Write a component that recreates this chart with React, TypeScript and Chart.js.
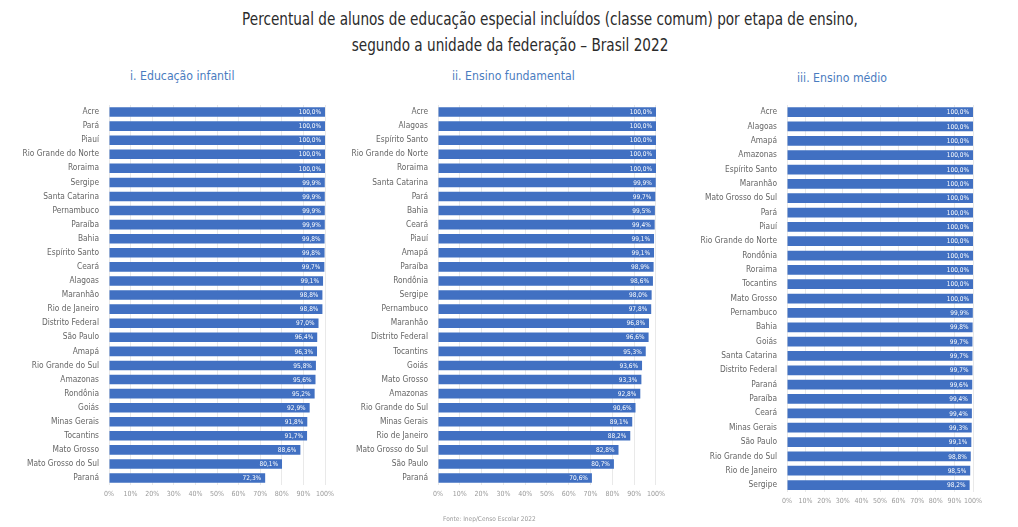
import React, { useEffect, useRef } from "react";
import { Chart, registerables } from "chart.js";

Chart.register(...registerables);

const FONT = "'Liberation Sans Narrow', 'DejaVu Sans Condensed', 'Roboto', sans-serif";

const infantilStates = ["Acre", "Pará", "Piauí", "Rio Grande do Norte", "Roraima", "Sergipe", "Santa Catarina", "Pernambuco", "Paraíba", "Bahia", "Espírito Santo", "Ceará", "Alagoas", "Maranhão", "Rio de Janeiro", "Distrito Federal", "São Paulo", "Amapá", "Rio Grande do Sul", "Amazonas", "Rondônia", "Goiás", "Minas Gerais", "Tocantins", "Mato Grosso", "Mato Grosso do Sul", "Paraná"];
const infantilValues = [100.0, 100.0, 100.0, 100.0, 100.0, 99.9, 99.9, 99.9, 99.9, 99.8, 99.8, 99.7, 99.1, 98.8, 98.8, 97.0, 96.4, 96.3, 95.8, 95.6, 95.2, 92.9, 91.8, 91.7, 88.6, 80.1, 72.3];

const fundamentalStates = ["Acre", "Alagoas", "Espírito Santo", "Rio Grande do Norte", "Roraima", "Santa Catarina", "Pará", "Bahia", "Ceará", "Piauí", "Amapá", "Paraíba", "Rondônia", "Sergipe", "Pernambuco", "Maranhão", "Distrito Federal", "Tocantins", "Goiás", "Mato Grosso", "Amazonas", "Rio Grande do Sul", "Minas Gerais", "Rio de Janeiro", "Mato Grosso do Sul", "São Paulo", "Paraná"];
const fundamentalValues = [100.0, 100.0, 100.0, 100.0, 100.0, 99.9, 99.7, 99.5, 99.4, 99.1, 99.1, 98.9, 98.6, 98.0, 97.8, 96.8, 96.6, 95.3, 93.6, 93.3, 92.8, 90.6, 89.1, 88.2, 82.8, 80.7, 70.6];

const medioStates = ["Acre", "Alagoas", "Amapá", "Amazonas", "Espírito Santo", "Maranhão", "Mato Grosso do Sul", "Pará", "Piauí", "Rio Grande do Norte", "Rondônia", "Roraima", "Tocantins", "Mato Grosso", "Pernambuco", "Bahia", "Goiás", "Santa Catarina", "Distrito Federal", "Paraná", "Paraíba", "Ceará", "Minas Gerais", "São Paulo", "Rio Grande do Sul", "Rio de Janeiro", "Sergipe"];
const medioValues = [100.0, 100.0, 100.0, 100.0, 100.0, 100.0, 100.0, 100.0, 100.0, 100.0, 100.0, 100.0, 100.0, 100.0, 99.9, 99.8, 99.7, 99.7, 99.7, 99.6, 99.4, 99.4, 99.3, 99.1, 98.8, 98.5, 98.2];

const xTicks = [0, 10, 20, 30, 40, 50, 60, 70, 80, 90, 100];

const fmt = (v: number) => v.toFixed(1).replace(".", ",") + "%";

const valueLabels = {
  id: "valueLabels",
  afterDatasetsDraw(chart: any) {
    const ctx = chart.ctx;
    const meta = chart.getDatasetMeta(0);
    const data = chart.data.datasets[0].data as number[];
    ctx.save();
    ctx.fillStyle = "#ffffff";
    ctx.font = `6.5px ${FONT}`;
    ctx.textAlign = "right";
    ctx.textBaseline = "middle";
    meta.data.forEach((bar: any, i: number) => {
      ctx.fillText(fmt(data[i]), bar.x - 4, bar.y + 0.5);
    });
    ctx.restore();
  },
};

type PanelProps = {
  labels: string[];
  values: number[];
  left: number;
  top: number;
  width: number;
  height: number;
  yWidth: number;
  pad: { top: number; bottom: number; right: number };
};

function Panel({ labels, values, left, top, width, height, yWidth, pad }: PanelProps) {
  const ref = useRef<HTMLCanvasElement | null>(null);
  useEffect(() => {
    if (!ref.current) return;
    const chart = new Chart(ref.current, {
      type: "bar",
      data: {
        labels,
        datasets: [
          {
            data: values,
            backgroundColor: "#4170c2",
            categoryPercentage: 1,
            barPercentage: 0.68,
          },
        ],
      },
      options: {
        indexAxis: "y",
        animation: false,
        responsive: false,
        maintainAspectRatio: false,
        layout: { padding: { left: 0, top: pad.top, bottom: pad.bottom, right: pad.right } },
        plugins: { legend: { display: false }, tooltip: { enabled: false } },
        scales: {
          x: {
            min: 0,
            max: 100,
            afterBuildTicks: (s: any) => {
              s.ticks = xTicks.map((v) => ({ value: v }));
            },
            afterFit: (s: any) => {
              s.height = 16;
            },
            grid: { color: "#e9e9e9", drawTicks: false },
            border: { display: false },
            ticks: {
              padding: 5,
              color: "#9a9a9a",
              font: { family: FONT, size: 7 },
              callback: (v: any) => v + "%",
              maxRotation: 0,
              autoSkip: false,
            },
          },
          y: {
            afterFit: (s: any) => {
              s.width = yWidth;
            },
            grid: { display: false, drawTicks: false },
            border: { display: false },
            ticks: {
              padding: 10,
              color: "#666666",
              font: { family: FONT, size: 8.3 },
              autoSkip: false,
            },
          },
        },
      },
      plugins: [valueLabels],
    });
    return () => chart.destroy();
  }, []);
  return (
    <canvas
      ref={ref}
      width={width}
      height={height}
      style={{ position: "absolute", left, top, width, height }}
    />
  );
}

const subStyle: React.CSSProperties = {
  position: "absolute",
  fontFamily: FONT,
  fontSize: 12.2,
  color: "#4a7cc0",
  whiteSpace: "nowrap",
};

const titleLine: React.CSSProperties = {
  position: "absolute",
  width: 800,
  textAlign: "center",
  fontFamily: FONT,
  fontSize: 17,
  lineHeight: "22px",
  color: "#2b2b2b",
  whiteSpace: "nowrap",
  transform: "scaleX(0.89)",
  transformOrigin: "center",
};

export default function App() {
  return (
    <div
      style={{
        position: "fixed",
        left: 0,
        top: 0,
        width: 1018,
        height: 527,
        background: "#ffffff",
        overflow: "hidden",
      }}
    >
      <div style={{ ...titleLine, left: 150, top: 8 }}>
        Percentual de alunos de educação especial incluídos (classe comum) por etapa de ensino,
      </div>
      <div style={{ ...titleLine, left: 110, top: 34 }}>
        segundo a unidade da federação – Brasil 2022
      </div>
      <div style={{ ...subStyle, left: 130, top: 69 }}>i. Educação infantil</div>
      <div style={{ ...subStyle, left: 452, top: 69 }}>ii. Ensino fundamental</div>
      <div style={{ ...subStyle, left: 797, top: 71 }}>iii. Ensino médio</div>

      <Panel
        labels={infantilStates}
        values={infantilValues}
        left={0}
        top={90}
        width={340}
        height={420}
        yWidth={109}
        pad={{ top: 9.9, bottom: 8.9, right: 15 }}
      />
      <Panel
        labels={fundamentalStates}
        values={fundamentalValues}
        left={330}
        top={90}
        width={340}
        height={420}
        yWidth={108}
        pad={{ top: 10.9, bottom: 8.9, right: 14 }}
      />
      <Panel
        labels={medioStates}
        values={medioValues}
        left={680}
        top={90}
        width={320}
        height={430}
        yWidth={107}
        pad={{ top: 12.8, bottom: 11.8, right: 27 }}
      />
      <div
        style={{
          position: "absolute",
          left: 443,
          top: 515,
          fontFamily: FONT,
          fontSize: 6.5,
          color: "#9a9a9a",
          whiteSpace: "nowrap",
        }}
      >
        Fonte: Inep/Censo Escolar 2022
      </div>
    </div>
  );
}
